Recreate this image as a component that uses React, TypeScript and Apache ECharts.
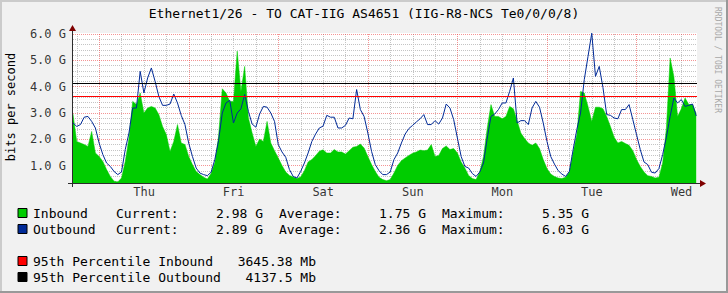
import React, { useEffect, useRef } from 'react';
import * as echarts from 'echarts';

// ---------- texts ----------
const TITLE = 'Ethernet1/26 - TO CAT-IIG AS4651 (IIG-R8-NCS Te0/0/0/8)';
const Y_NAME = 'bits per second';
const WATERMARK = 'RRDTOOL / TOBI OETIKER';

// ---------- axes ----------
const DAYS = ['Thu', 'Fri', 'Sat', 'Sun', 'Mon', 'Tue', 'Wed'];
const DAY_CENTERS = [12, 36, 60, 84, 108, 132, 156]; // hours since Thu 00:00
const V_MAJOR = [0, 24, 48, 72, 96, 120, 144]; // midnights
const V_MINOR = [-6, 6, 12, 18, 30, 36, 42, 54, 60, 66, 78, 84, 90, 102, 108, 114, 126, 132, 138, 150, 156];
const Y_TICKS = [1, 2, 3, 4, 5, 6];
const Y_TICK_LABELS = ['1.0 G', '2.0 G', '3.0 G', '4.0 G', '5.0 G', '6.0 G'];
const Y_MINOR = [0.4, 0.6, 0.8, 1.2, 1.4, 1.6, 1.8, 2.2, 2.4, 2.6, 2.8, 3.2, 3.4, 3.6, 3.8, 4.2, 4.4, 4.6, 4.8, 5.2, 5.4, 5.6, 5.8];
const X_MIN = -7.05;
const X_MAX = 160.15;
const Y_MIN = 0.341;
const Y_MAX = 6.038;
const START_HOUR = -7.05;
const STEP_HOUR = 1;

// ---------- data (G bits per second, hourly) ----------
const inbound = [
  2.96, 1.92, 1.86, 1.80, 1.73, 2.30, 1.48, 1.35, 1.16, 0.85,
  0.59, 0.41, 0.38, 0.53, 1.16, 2.05, 3.44, 3.32, 3.76, 3.00,
  3.19, 3.25, 3.19, 2.94, 2.49, 2.18, 1.54, 1.92, 2.56, 1.86,
  1.80, 1.35, 1.04, 0.78, 0.66, 0.56, 0.49, 0.70, 1.11, 2.11,
  3.92, 3.76, 3.44, 3.44, 5.35, 3.82, 4.77, 2.81, 2.24, 1.73,
  2.01, 1.92, 2.68, 1.86, 1.57, 1.29, 1.01, 0.76, 0.63, 0.57,
  0.51, 0.57, 0.81, 1.14, 1.23, 1.38, 1.55, 1.60, 1.48, 1.48,
  1.61, 1.52, 1.52, 1.44, 1.57, 1.70, 1.73, 1.82, 1.67, 1.35,
  1.04, 0.78, 0.56, 0.47, 0.43, 0.47, 0.72, 1.01, 1.19, 1.29,
  1.39, 1.47, 1.52, 1.59, 1.57, 1.59, 1.80, 1.35, 1.39, 1.65,
  1.75, 1.61, 1.65, 1.48, 1.14, 0.91, 0.63, 0.51, 0.47, 0.76,
  1.35, 2.43, 3.32, 2.87, 2.87, 2.78, 2.87, 3.25, 3.16, 2.71,
  2.24, 2.03, 1.86, 1.77, 1.86, 1.65, 1.23, 0.89, 0.68, 0.59,
  0.53, 0.51, 0.56, 0.76, 1.50, 2.18, 3.82, 3.76, 3.25, 2.68,
  3.22, 3.22, 3.16, 2.87, 2.49, 2.08, 1.86, 1.92, 1.84, 1.77,
  1.57, 1.23, 0.97, 0.76, 0.62, 0.59, 0.53, 0.56, 1.10, 2.43,
  5.09, 4.39, 2.87, 3.16, 3.57, 3.32, 3.32, 2.98,
];
const outbound = [
  2.62, 2.49, 2.56, 2.84, 2.87, 2.68, 2.43, 1.86, 1.42, 1.10,
  0.97, 0.78, 0.66, 0.76, 1.61, 2.24, 3.19, 3.19, 4.58, 3.76,
  4.33, 4.71, 4.20, 3.63, 3.29, 3.29, 3.34, 3.72, 3.38, 2.91,
  2.56, 1.86, 1.35, 0.91, 0.72, 0.66, 0.62, 0.75, 1.23, 1.95,
  3.00, 3.38, 3.48, 2.62, 3.00, 3.16, 3.70, 3.06, 2.58, 2.46,
  2.96, 3.25, 3.22, 3.00, 2.68, 1.80, 1.52, 1.32, 0.85, 0.59,
  0.53, 0.78, 1.10, 1.48, 1.92, 2.20, 2.43, 2.50, 2.91, 2.84,
  2.84, 2.43, 2.43, 2.53, 2.81, 2.78, 3.89, 3.13, 2.87, 2.24,
  1.54, 1.04, 0.81, 0.66, 0.66, 0.76, 1.23, 1.48, 1.86, 2.20,
  2.41, 2.53, 2.66, 2.78, 2.94, 2.56, 2.56, 2.71, 2.58, 2.81,
  3.34, 3.19, 2.75, 2.05, 1.35, 0.97, 0.91, 0.70, 0.59, 0.76,
  1.10, 2.05, 2.87, 2.96, 3.13, 3.38, 3.38, 3.82, 4.33, 2.62,
  2.71, 2.71, 2.56, 3.19, 3.44, 3.22, 2.62, 1.92, 1.35, 1.06,
  0.81, 0.68, 0.59, 0.78, 1.60, 2.37, 3.00, 4.27, 5.15, 6.03,
  4.39, 4.77, 3.97, 2.94, 2.91, 2.81, 2.78, 3.13, 3.13, 3.32,
  2.75, 2.18, 1.61, 1.14, 1.04, 0.75, 0.72, 0.89, 1.42, 2.08,
  2.87, 3.57, 3.38, 3.51, 3.25, 3.29, 3.34, 2.89,
];

// ---------- legend values ----------
const STAT_NAMES = ['Current:', 'Average:', 'Maximum:'];
const inboundStats = [2.98, 1.75, 5.35];
const outboundStats = [2.89, 2.36, 6.03];
const PCT_NAMES = ['95th Percentile Inbound', '95th Percentile Outbound'];
const pct95Mb = [3645.38, 4137.5];

// ---------- styles ----------
const MONO = 'DejaVu Sans Mono';
const BG = '#F1F1F1';
const IN_COLOR = '#00CC00';
const OUT_COLOR = '#002A97';
const P_IN_COLOR = '#FF0000';
const P_OUT_COLOR = '#000000';
const AXIS_COLOR = '#2C2C2C';
const ARROW_COLOR = '#7F0000';
const MINOR_GRID = '#C4C4C4';
const MAJOR_GRID = 'rgba(235,60,60,0.55)';

export default function App() {
  const ref = useRef<HTMLDivElement>(null);

  useEffect(() => {
    if (!ref.current) return;
    const chart = echarts.init(ref.current, undefined, { renderer: 'svg' });

    const toXY = (arr: number[]) => arr.map((v, i) => [START_HOUR + i * STEP_HOUR, v]);

    const dotted = (color: string) => ({ color, width: 1, type: [1, 1] as number[] });
    const gridLines: any[] = [
      ...Y_MINOR.map((v) => ({ yAxis: v, lineStyle: dotted(MINOR_GRID) })),
      ...V_MINOR.map((v) => ({ xAxis: v, lineStyle: dotted(MINOR_GRID) })),
      ...Y_TICKS.map((v) => ({ yAxis: v, lineStyle: dotted(MAJOR_GRID) })),
      ...V_MAJOR.map((v) => ({ xAxis: v, lineStyle: dotted(MAJOR_GRID) })),
    ];

    const txt = (x: number, y: number, text: string, extra: any = {}) => ({
      type: 'text',
      x,
      y,
      z: 50,
      silent: true,
      style: {
        text,
        fill: '#000',
        fontFamily: MONO,
        fontSize: 13,
        align: 'left',
        verticalAlign: 'middle',
        ...extra,
      },
    });
    const box = (y: number, color: string) => ({
      type: 'rect',
      z: 50,
      silent: true,
      shape: { x: 18, y: y - 4.5, width: 9, height: 9 },
      style: { fill: color, stroke: '#000', lineWidth: 1 },
    });

    const legendRows = [
      { name: 'Inbound', color: IN_COLOR, stats: inboundStats, y: 213 },
      { name: 'Outbound', color: OUT_COLOR, stats: outboundStats, y: 229 },
    ];
    const labelX = [116, 279, 442];
    const valueRight = [263, 426, 589];

    const graphics: any[] = [];
    // frame
    graphics.push(
      { type: 'rect', z: 0, silent: true, shape: { x: 0, y: 0, width: 728, height: 2 }, style: { fill: '#CBCBCB' } },
      { type: 'rect', z: 0, silent: true, shape: { x: 0, y: 0, width: 2, height: 293 }, style: { fill: '#CBCBCB' } },
      { type: 'rect', z: 0, silent: true, shape: { x: 726, y: 0, width: 2, height: 293 }, style: { fill: '#999999' } },
      { type: 'rect', z: 0, silent: true, shape: { x: 0, y: 291, width: 728, height: 2 }, style: { fill: '#999999' } },
    );
    // title, axis name, watermark
    graphics.push(txt(364, 13, TITLE, { align: 'center' }));
    graphics.push({ ...txt(11, 107, Y_NAME, { align: 'center', fontSize: 12 }), rotation: Math.PI / 2 });
    graphics.push({ ...txt(717, 7, WATERMARK, { fontSize: 8, fill: '#A8A8A8' }), rotation: -Math.PI / 2 });
    // axes
    graphics.push(
      { type: 'line', z: 60, silent: true, shape: { x1: 68, y1: 183.5, x2: 701, y2: 183.5 }, style: { stroke: AXIS_COLOR, lineWidth: 1 } },
      { type: 'line', z: 60, silent: true, shape: { x1: 72.5, y1: 187, x2: 72.5, y2: 30 }, style: { stroke: AXIS_COLOR, lineWidth: 1 } },
      { type: 'polygon', z: 61, silent: true, shape: { points: [[700, 180], [706, 183.5], [700, 187]] }, style: { fill: ARROW_COLOR } },
      { type: 'polygon', z: 61, silent: true, shape: { points: [[69, 31], [72.5, 25], [76, 31]] }, style: { fill: ARROW_COLOR } },
    );
    // legend rows
    legendRows.forEach((r) => {
      graphics.push(box(r.y, r.color));
      graphics.push(txt(33, r.y, r.name));
      r.stats.forEach((v, k) => {
        graphics.push(txt(labelX[k], r.y, STAT_NAMES[k]));
        graphics.push(txt(valueRight[k], r.y, v.toFixed(2) + ' G', { align: 'right' }));
      });
    });
    const pctRows = [
      { y: 261, color: P_IN_COLOR },
      { y: 277, color: P_OUT_COLOR },
    ];
    pctRows.forEach((r, k) => {
      graphics.push(box(r.y, r.color));
      graphics.push(txt(33, r.y, PCT_NAMES[k]));
      graphics.push(txt(316, r.y, String(pct95Mb[k]) + ' Mb', { align: 'right' }));
    });

    const option: any = {
      animation: false,
      backgroundColor: BG,
      grid: { left: 73, top: 33, width: 624, height: 150, show: true, backgroundColor: '#FFFFFF', borderWidth: 0 },
      xAxis: { type: 'value', min: X_MIN, max: X_MAX, show: false },
      yAxis: { type: 'value', min: Y_MIN, max: Y_MAX, show: false },
      series: [
        {
          name: 'Inbound',
          type: 'line',
          data: toXY(inbound),
          symbol: 'none',
          showSymbol: false,
          z: 2,
          color: IN_COLOR,
          lineStyle: { width: 0.5, color: IN_COLOR },
          areaStyle: { color: IN_COLOR, opacity: 1, origin: 'start' },
          markLine: {
            silent: true,
            z: 1,
            symbol: ['none', 'none'],
            label: { show: false },
            animation: false,
            data: gridLines,
          },
        },
        {
          name: 'Outbound',
          type: 'line',
          data: toXY(outbound),
          symbol: 'none',
          showSymbol: false,
          z: 3,
          color: OUT_COLOR,
          lineStyle: { width: 1, color: OUT_COLOR },
          markLine: {
            silent: true,
            z: 6,
            symbol: ['none', 'none'],
            label: { show: false },
            animation: false,
            data: [
              { yAxis: pct95Mb[0] / 1000, lineStyle: { color: P_IN_COLOR, width: 1, type: 'solid' } },
              { yAxis: pct95Mb[1] / 1000, lineStyle: { color: P_OUT_COLOR, width: 1, type: 'solid' } },
            ],
          },
        },
        {
          name: 'days',
          type: 'scatter',
          silent: true,
          symbolSize: 0,
          clip: false,
          z: 7,
          data: DAY_CENTERS.map((t, i) => ({ value: [t, Y_MIN], name: DAYS[i] })),
          label: { show: true, position: 'bottom', distance: 3, formatter: '{b}', color: '#000', fontFamily: MONO, fontSize: 12 },
        },
        {
          name: 'yticks',
          type: 'scatter',
          silent: true,
          symbolSize: 0,
          clip: false,
          z: 7,
          data: Y_TICKS.map((v, i) => ({ value: [X_MIN, v], name: Y_TICK_LABELS[i] })),
          label: { show: true, position: 'left', distance: 7, formatter: '{b}', color: '#000', fontFamily: MONO, fontSize: 12 },
        },
      ],
      graphic: graphics,
    };

    chart.setOption(option);
    return () => chart.dispose();
  }, []);

  return (
    <div
      ref={ref}
      style={{ position: 'fixed', left: 0, top: 0, width: 728, height: 293 }}
    />
  );
}
